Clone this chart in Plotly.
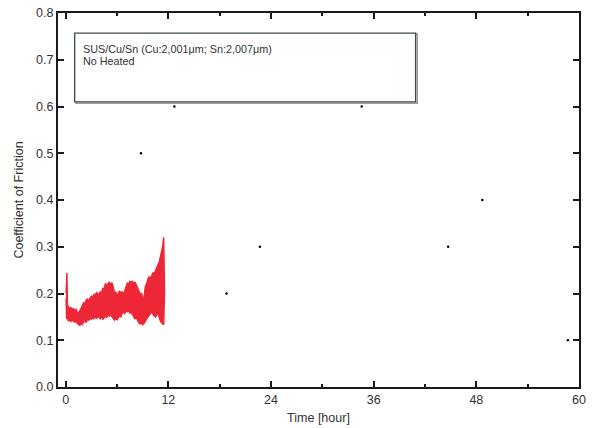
import plotly.graph_objects as go

# ---- data ----
t_hours = [0.05, 0.1, 0.14, 0.2, 0.3, 0.45, 0.6, 0.75, 0.9, 1.05, 1.2, 1.35, 1.5, 1.65,
           1.8, 1.95, 2.1, 2.25, 2.4, 2.55, 2.7, 2.85, 3.0, 3.15, 3.3, 3.45, 3.6, 3.75,
           3.9, 4.05, 4.2, 4.35, 4.5, 4.65, 4.8, 4.95, 5.1, 5.25, 5.4, 5.55, 5.7, 5.85,
           6.0, 6.15, 6.3, 6.45, 6.6, 6.75, 6.9, 7.05, 7.2, 7.35, 7.5, 7.65, 7.8, 7.95,
           8.1, 8.25, 8.4, 8.55, 8.7, 8.85, 9.0, 9.15, 9.3, 9.45, 9.6, 9.75, 9.9, 10.05,
           10.2, 10.35, 10.5, 10.65, 10.8, 10.95, 11.1, 11.25, 11.35, 11.45, 11.55]
cof_upper = [0.20, 0.244, 0.244, 0.175, 0.172, 0.168, 0.170, 0.165, 0.168, 0.163, 0.166,
             0.160, 0.158, 0.162, 0.168, 0.174, 0.180, 0.178, 0.186, 0.188, 0.184, 0.190,
             0.194, 0.190, 0.198, 0.196, 0.202, 0.200, 0.198, 0.204, 0.200, 0.212, 0.208,
             0.222, 0.215, 0.220, 0.225, 0.218, 0.223, 0.214, 0.200, 0.204, 0.196, 0.200,
             0.206, 0.200, 0.204, 0.198, 0.208, 0.214, 0.222, 0.220, 0.226, 0.224, 0.226,
             0.222, 0.224, 0.218, 0.214, 0.206, 0.198, 0.200, 0.192, 0.190, 0.214, 0.220,
             0.230, 0.236, 0.232, 0.240, 0.244, 0.242, 0.250, 0.256, 0.262, 0.268, 0.280,
             0.292, 0.302, 0.320, 0.212]
cof_lower = [0.19, 0.15, 0.145, 0.150, 0.141, 0.145, 0.140, 0.144, 0.141, 0.139, 0.142,
             0.136, 0.134, 0.132, 0.137, 0.134, 0.140, 0.142, 0.138, 0.145, 0.143, 0.147,
             0.145, 0.149, 0.146, 0.150, 0.147, 0.151, 0.149, 0.146, 0.150, 0.145, 0.148,
             0.152, 0.149, 0.155, 0.152, 0.156, 0.150, 0.147, 0.143, 0.146, 0.144, 0.148,
             0.152, 0.150, 0.158, 0.160, 0.157, 0.163, 0.161, 0.164, 0.158, 0.160, 0.154,
             0.150, 0.146, 0.148, 0.142, 0.138, 0.135, 0.137, 0.133, 0.135, 0.140, 0.146,
             0.150, 0.154, 0.157, 0.160, 0.156, 0.152, 0.150, 0.155, 0.158, 0.148, 0.140,
             0.138, 0.135, 0.133, 0.205]

# stray dots visible in the plot area
dot_x = [12.7, 34.6, 8.8, 48.7, 22.7, 44.7, 18.8, 58.7]
dot_y = [0.6, 0.6, 0.5, 0.4, 0.3, 0.3, 0.2, 0.1]

x_ticks = [0, 12, 24, 36, 48, 60]
y_ticks = [0.0, 0.1, 0.2, 0.3, 0.4, 0.5, 0.6, 0.7, 0.8]

legend_lines = ["SUS/Cu/Sn (Cu:2,001\u03bcm; Sn:2,007\u03bcm)", "No Heated"]

red = "#EE2737"
font_family = "Liberation Sans, Arial, sans-serif"

fig = go.Figure()

# noisy friction band drawn as the region between the upper and lower envelopes
fig.add_trace(go.Scatter(
    x=t_hours + t_hours[::-1],
    y=cof_upper + cof_lower[::-1],
    fill="toself", fillcolor=red, mode="lines",
    line=dict(color=red, width=1.5), hoverinfo="skip", showlegend=False))

fig.add_trace(go.Scatter(
    x=dot_x, y=dot_y, mode="markers",
    marker=dict(color="black", size=2.5), showlegend=False))

# legend-like box
fig.add_shape(type="rect", xref="x", yref="y", x0=1.2, x1=41.1, y0=0.607, y1=0.755,
              line=dict(color="#9a9a9a", width=1.5), fillcolor="rgba(0,0,0,0)", layer="above")
fig.add_shape(type="rect", xref="x", yref="y", x0=1.05, x1=40.9, y0=0.61, y1=0.757,
              line=dict(color="#3c4a4a", width=1.3), fillcolor="rgba(255,255,255,1)", layer="above")
for i, line_text in enumerate(legend_lines):
    fig.add_annotation(x=1.75, y=0.724 - i * 0.0257, xref="x", yref="y",
                       xanchor="left", yanchor="middle",
                       text=line_text, showarrow=False, align="left",
                       font=dict(family=font_family, size=10.8, color="#333333"))

axis_common = dict(showline=True, linecolor="#1a1a1a", linewidth=2, mirror="ticks",
                   ticks="inside", tickcolor="#1a1a1a", tickwidth=2, showgrid=False,
                   zeroline=False, automargin=False, ticklabeloverflow="allow",
                   tickfont=dict(family=font_family, size=12.5, color="#333333"))

fig.update_xaxes(range=[-0.9, 60], tickvals=x_ticks, ticklen=6,
                 title=dict(text="Time [hour]", standoff=7,
                            font=dict(family=font_family, size=12.5, color="#333333")),
                 minor=dict(dtick=6, tick0=0, ticklen=3, ticks="inside",
                            tickcolor="#1a1a1a", tickwidth=2),
                 **axis_common)
fig.update_yaxes(range=[0, 0.8], tickvals=y_ticks, tickformat=".1f", ticklen=6,
                 title=dict(text="Coefficient of Friction", standoff=10,
                            font=dict(family=font_family, size=12.5, color="#333333")),
                 **axis_common)

fig.update_layout(
    width=595, height=428,
    margin=dict(l=58, r=16, t=13, b=41),
    paper_bgcolor="white", plot_bgcolor="white",
    showlegend=False,
)

# remove the default 8px page margin so the figure fills the window exactly
fig.write_html("out.html",
               config={"displayModeBar": False, "staticPlot": True},
               post_script="document.body.style.margin='0';document.body.style.overflow='hidden';")
